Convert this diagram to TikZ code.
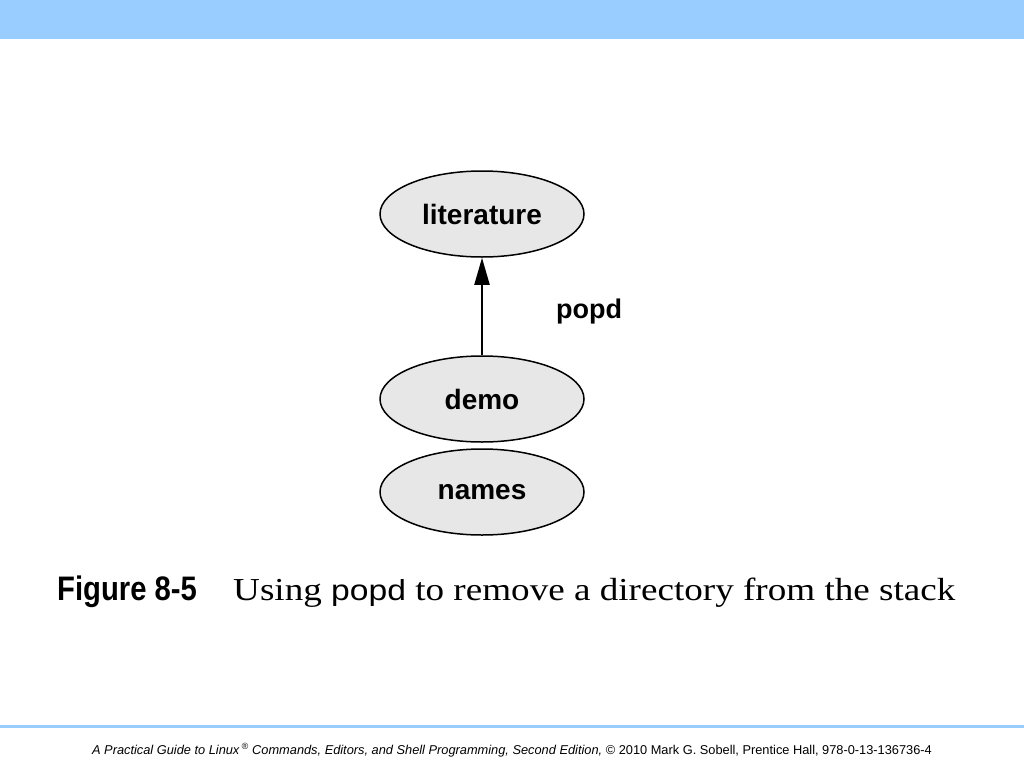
\documentclass[tikz,border=0pt]{standalone}
\usepackage{fontspec}
\setmainfont{Liberation Serif}
\setsansfont{Liberation Sans}
\usetikzlibrary{shapes.geometric}
\usetikzlibrary{arrows.meta}
\definecolor{barblue}{RGB}{153,204,255}
\definecolor{dirgray}{RGB}{231,231,231}
\newcommand{\dirnode}[4]{\node[dirshape] (#1) at ( #2 , #3 ) {#4};}

\begin{document}
\begin{tikzpicture}[x=1pt,y=-1pt,
  dirshape/.style={ellipse, draw, line width=1.5pt, fill=dirgray, inner sep=0pt,
    minimum width=204pt, minimum height=86pt, font=\fontsize{28}{28}\sffamily\bfseries}]
\useasboundingbox (0,0) rectangle (1024,768);
% top and bottom bars
\fill[barblue] (0,0) rectangle (1024,39);
\fill[barblue] (0,725) rectangle (1024,728);
% directory stack
\dirnode{lit}{482}{214}{literature}
\dirnode{demo}{482}{399}{demo}
\dirnode{names}{482}{492}{names}
% pop arrow
\draw[line width=2pt, -{Triangle[length=27pt,width=15pt]}] (demo) -- (lit);
\node[anchor=base west, inner sep=0pt, font=\fontsize{27}{27}\sffamily\bfseries] (popd) at (556,318) {popd};
% caption
\node[anchor=base west, inner sep=0pt, xscale=0.86, font=\fontsize{34}{34}\sffamily\bfseries] (fig) at (57,600) {Figure 8-5};
\node[anchor=base west, inner sep=0pt, xscale=1.16, font=\fontsize{32}{32}\selectfont] (cap) at (233,600) {Using {\sffamily\fontsize{29}{29}\selectfont popd} to remove a directory from the stack};
% footer
\node[anchor=base, inner sep=0pt, font=\fontsize{12.8}{13}\sffamily\itshape] (foot) at (512,754)
  {A Practical Guide to Linux\,\textsuperscript{\textregistered} Commands, Editors, and Shell Programming, Second Edition, {\upshape\textcopyright\ 2010 Mark G. Sobell, Prentice Hall, 978-0-13-136736-4}};
\end{tikzpicture}
\end{document}
